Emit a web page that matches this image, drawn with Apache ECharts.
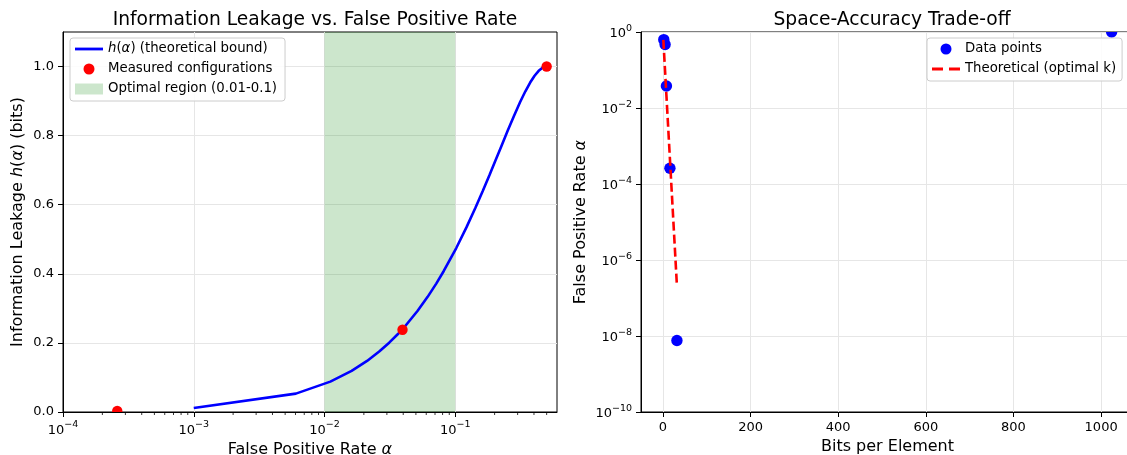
<!DOCTYPE html>
<html>
<head>
<meta charset="utf-8">
<script src="https://cdn.jsdelivr.net/npm/echarts@6/dist/echarts.min.js"></script>
<style>
html,body{margin:0;padding:0;background:#fff;}
#c{width:1127px;height:455px;}
</style>
</head>
<body>
<div id="c"></div>
<script>
// ---- Left panel: information leakage curve h(alpha) ----
const alphaGrid = [0.001, 0.00604, 0.01108, 0.01612, 0.02116, 0.0262, 0.03124, 0.03628, 0.04132,
  0.0514, 0.06148, 0.07156, 0.0817, 0.1018, 0.122, 0.1421, 0.1623, 0.1825, 0.2026, 0.2228,
  0.253, 0.2833, 0.3135, 0.3438, 0.374, 0.4043, 0.4345, 0.4648, 0.5];
const leakage = [0.0114, 0.0532, 0.0879, 0.1191, 0.1479, 0.1750, 0.2006, 0.2250, 0.2483,
  0.2923, 0.3333, 0.3717, 0.4082, 0.4747, 0.5351, 0.5897, 0.6398, 0.6856, 0.7272, 0.7652,
  0.8161, 0.8599, 0.8973, 0.9284, 0.9538, 0.9734, 0.9876, 0.9964, 1.0];
const measuredAlpha = [0.00026, 0.0395, 0.5];
const measuredLeak = [0.003, 0.238, 1.0];
const optimalRegion = [0.01, 0.1];
const leftXTicks = [1e-4, 1e-3, 1e-2, 1e-1];
const leftYTicks = [0, 0.2, 0.4, 0.6, 0.8, 1.0];
const leftMinorTicks = [2e-4,3e-4,4e-4,5e-4,6e-4,7e-4,8e-4,9e-4,
  2e-3,3e-3,4e-3,5e-3,6e-3,7e-3,8e-3,9e-3,
  2e-2,3e-2,4e-2,5e-2,6e-2,7e-2,8e-2,9e-2,
  2e-1,3e-1,4e-1,5e-1];

// ---- Right panel: space-accuracy trade-off ----
const bitsPerElement = [2, 5, 8, 16, 32, 1024];
const fprMeasured = [0.63, 0.47, 0.038, 2.6e-4, 7.6e-9, 1.0];
const bitsTheory = [1, 2, 4, 8, 16, 24, 32];
const fprTheory = [0.6185, 0.3825, 0.1463, 0.0214, 4.6e-4, 9.8e-6, 2.1e-7];
const rightXTicks = [0, 200, 400, 600, 800, 1000];
const rightYTicks = [1e-10, 1e-8, 1e-6, 1e-4, 1e-2, 1];

const FONT = 'DejaVu Sans';
const GRIDC = '#e6e6e6';
const supRich = {
  b: {fontFamily: FONT, fontSize: 13, color: '#000', padding: [4, 0, 0, 0], verticalAlign: 'bottom'},
  s: {fontFamily: FONT, fontSize: 9.5, color: '#000', verticalAlign: 'top'}
};
function powLabel(v) {
  const l = Math.log10(v);
  const e = Math.round(l);
  if (Math.abs(l - e) > 1e-6) return '';
  return '{b|10}{s|' + (e < 0 ? '\u2212' + (-e) : String(e)) + '}';
}
const axisLineStyle = {show: true, onZero: false, lineStyle: {color: '#000', width: 1}};
const tickStyle = {show: true, inside: false, length: 5, lineStyle: {color: '#000', width: 1}};

function pairs(xs, ys) { return xs.map((x, i) => [x, ys[i]]); }

function scatterRender(r) {
  return function (params, api) {
    const p = api.coord([api.value(0), api.value(1)]);
    return {type: 'circle', shape: {cx: p[0], cy: p[1], r: r}, style: {fill: api.visual('color')}};
  };
}

const chart = echarts.init(document.getElementById('c'), null, {renderer: 'canvas'});
const option = {
  animation: false,
  backgroundColor: '#fff',
  textStyle: {fontFamily: FONT},
  title: [
    {text: 'Information Leakage vs. False Positive Rate', left: 310, top: 6, textAlign: 'center',
     textStyle: {fontFamily: FONT, fontSize: 18.7, fontWeight: 'normal', color: '#000'}},
    {text: 'Space-Accuracy Trade-off', left: 887, top: 6, textAlign: 'center',
     textStyle: {fontFamily: FONT, fontSize: 18.7, fontWeight: 'normal', color: '#000'}}
  ],
  grid: [
    {left: 63, top: 32, width: 494, height: 380, containLabel: false, outerBoundsMode: 'none',
     show: true, borderColor: '#000', borderWidth: 1, backgroundColor: 'transparent'},
    {left: 641, top: 32, width: 493, height: 380, containLabel: false, outerBoundsMode: 'none',
     show: true, borderColor: '#000', borderWidth: 1, backgroundColor: 'transparent'}
  ],
  legend: [
    {
      left: 70, top: 38, orient: 'vertical', itemWidth: 28, itemHeight: 11, itemGap: 6,
      padding: [4, 8, 5, 5], backgroundColor: 'rgba(255,255,255,0.85)', borderColor: '#cccccc',
      borderWidth: 1, borderRadius: 3,
      textStyle: {fontFamily: FONT, fontSize: 13.3, color: '#000', lineHeight: 14,
        rich: {i: {fontFamily: FONT, fontSize: 13.3, fontStyle: 'italic', color: '#000'}}},
      formatter: function (name) {
        if (name === 'h(α) (theoretical bound)') return '{i|h}({i|α}) (theoretical bound)';
        return name;
      },
      data: [
        {name: 'h(α) (theoretical bound)', icon: 'path://M0,0H30V3H0Z'},
        {name: 'Measured configurations', icon: 'circle'},
        {name: 'Optimal region (0.01-0.1)', icon: 'rect'}
      ]
    },
    {
      left: 927, top: 38, orient: 'vertical', itemWidth: 28, itemHeight: 11, itemGap: 6,
      padding: [4, 6, 5, 5], backgroundColor: 'rgba(255,255,255,0.85)', borderColor: '#cccccc',
      borderWidth: 1, borderRadius: 3,
      textStyle: {fontFamily: FONT, fontSize: 13.3, color: '#000', lineHeight: 14},
      data: [
        {name: 'Data points', icon: 'circle'},
        {name: 'Theoretical (optimal k)', icon: 'path://M0,0H11V3H0Z M17,0H28V3H17Z'}
      ]
    }
  ],
  xAxis: [
    {
      gridIndex: 0, type: 'log', logBase: 10, min: 1e-4, max: 0.6,
      name: 'False Positive Rate {i|α}', nameLocation: 'middle', nameGap: 22,
      nameTextStyle: {fontFamily: FONT, fontSize: 16, color: '#000',
        rich: {i: {fontFamily: FONT, fontSize: 16, fontStyle: 'italic', color: '#000'}}},
      axisLine: axisLineStyle, axisTick: Object.assign({customValues: leftXTicks}, tickStyle),
      axisLabel: {customValues: leftXTicks, formatter: powLabel, rich: supRich, margin: 8},
      splitLine: {show: true, lineStyle: {color: GRIDC, width: 1}},
      minorTick: {show: false}
    },
    {
      gridIndex: 1, type: 'value', min: -50, max: 1075,
      name: 'Bits per Element', nameLocation: 'middle', nameGap: 22,
      nameTextStyle: {fontFamily: FONT, fontSize: 16, color: '#000'},
      axisLine: axisLineStyle, axisTick: Object.assign({customValues: rightXTicks}, tickStyle),
      axisLabel: {customValues: rightXTicks, fontFamily: FONT, fontSize: 13, color: '#000', margin: 9,
        formatter: function (v) { return (v % 200 === 0) ? String(v) : ''; }},
      splitLine: {show: true, lineStyle: {color: GRIDC, width: 1}}
    }
  ],
  yAxis: [
    {
      gridIndex: 0, type: 'value', min: 0, max: 1.1, interval: 0.2,
      name: 'Information Leakage {i|h}({i|α}) (bits)', nameLocation: 'middle', nameGap: 37,
      nameTextStyle: {fontFamily: FONT, fontSize: 16, color: '#000',
        rich: {i: {fontFamily: FONT, fontSize: 16, fontStyle: 'italic', color: '#000'}}},
      axisLine: axisLineStyle, axisTick: Object.assign({customValues: leftYTicks}, tickStyle),
      axisLabel: {customValues: leftYTicks, fontFamily: FONT, fontSize: 13, color: '#000', margin: 9,
        formatter: function (v) { return v > 1.05 ? '' : v.toFixed(1); }},
      splitLine: {show: true, lineStyle: {color: GRIDC, width: 1}}
    },
    {
      gridIndex: 1, type: 'log', logBase: 100, min: 1e-10, max: 1,
      name: 'False Positive Rate {i|α}', nameLocation: 'middle', nameGap: 52,
      nameTextStyle: {fontFamily: FONT, fontSize: 16, color: '#000',
        rich: {i: {fontFamily: FONT, fontSize: 16, fontStyle: 'italic', color: '#000'}}},
      axisLine: axisLineStyle, axisTick: Object.assign({customValues: rightYTicks}, tickStyle),
      axisLabel: {customValues: rightYTicks, formatter: powLabel, rich: supRich, margin: 9},
      splitLine: {show: true, lineStyle: {color: GRIDC, width: 1}},
      minorTick: {show: false}
    }
  ],
  series: [
    {
      name: 'Optimal region (0.01-0.1)', type: 'line', xAxisIndex: 0, yAxisIndex: 0, data: [],
      itemStyle: {color: '#cce6cc'}, lineStyle: {width: 0}, z: 1, silent: true,
      markArea: {silent: true, itemStyle: {color: 'rgba(0,128,0,0.2)', borderWidth: 0},
        data: [[{xAxis: optimalRegion[0]}, {xAxis: optimalRegion[1]}]]}
    },
    {
      name: 'h(α) (theoretical bound)', type: 'line', xAxisIndex: 0, yAxisIndex: 0,
      data: pairs(alphaGrid, leakage), showSymbol: false, symbol: 'none',
      itemStyle: {color: '#0000ff'}, lineStyle: {color: '#0000ff', width: 2.6}, z: 3
    },
    {
      name: 'Measured configurations', type: 'custom', xAxisIndex: 0, yAxisIndex: 0,
      data: pairs(measuredAlpha, measuredLeak), renderItem: scatterRender(5.2), clip: true,
      itemStyle: {color: '#ff0000'}, z: 4
    },
    {
      name: 'minor', type: 'custom', xAxisIndex: 0, yAxisIndex: 0, silent: true, clip: false,
      data: leftMinorTicks.map(v => [v, 0]),
      renderItem: function (params, api) {
        const p = api.coord([api.value(0), 0]);
        return {type: 'line', shape: {x1: p[0], y1: p[1], x2: p[0], y2: p[1] + 3},
          style: {stroke: '#000', lineWidth: 0.8}};
      }, z: 5
    },
    {
      name: 'Data points', type: 'custom', xAxisIndex: 1, yAxisIndex: 1,
      data: pairs(bitsPerElement, fprMeasured), renderItem: scatterRender(5.7), clip: true,
      itemStyle: {color: '#0000ff'}, z: 3
    },
    {
      name: 'Theoretical (optimal k)', type: 'line', xAxisIndex: 1, yAxisIndex: 1,
      data: pairs(bitsTheory, fprTheory), showSymbol: false, symbol: 'none',
      itemStyle: {color: '#ff0000'}, lineStyle: {color: '#ff0000', width: 2.6, type: [9, 4]}, z: 4
    }
  ]
};
chart.setOption(option);
</script>
</body>
</html>
